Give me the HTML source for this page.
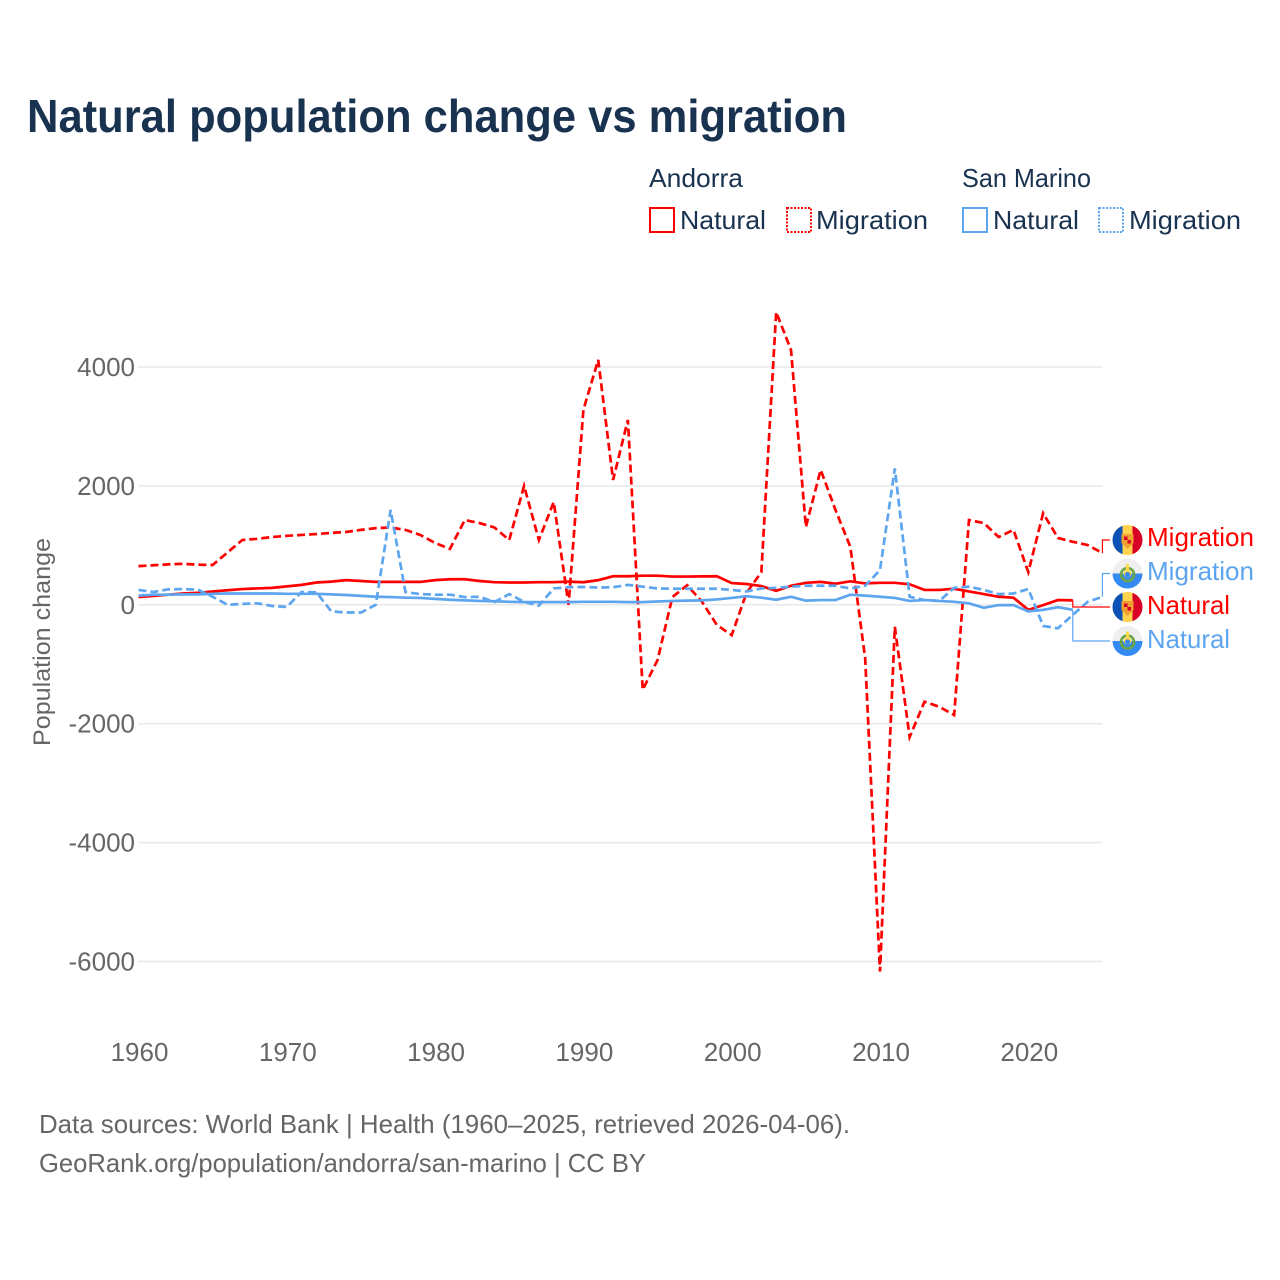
<!DOCTYPE html>
<html lang="en">
<head>
<meta charset="utf-8">
<title>Natural population change vs migration</title>
<style>
html,body{margin:0;padding:0;background:#fff;}
svg{display:block;font-family:"Liberation Sans",sans-serif;}
</style>
</head>
<body>
<svg id="chart" xmlns="http://www.w3.org/2000/svg" width="1280" height="1280" viewBox="0 0 1280 1280">
  <defs>
    <clipPath id="flag-clip"><circle cx="0" cy="0" r="15"/></clipPath>
    <g id="flag-ad" clip-path="url(#flag-clip)">
      <rect x="-15" y="-15" width="30" height="30" fill="#ffd34d"/>
      <rect x="-15" y="-15" width="10" height="30" fill="#0a52b5"/>
      <rect x="5" y="-15" width="10" height="30" fill="#d80027"/>
      <path d="M-6,-6 H6 V3 L0,9 L-6,3 Z" fill="#f0a030"/>
      <rect x="-3.5" y="-3.5" width="3.5" height="3.5" fill="#d80027"/>
      <rect x="0" y="0" width="3.5" height="3.5" fill="#d80027"/>
    </g>
    <g id="flag-sm" clip-path="url(#flag-clip)">
      <rect x="-15" y="-15" width="30" height="15" fill="#eeeeee"/>
      <rect x="-15" y="0" width="30" height="15" fill="#338af3"/>
      <circle cx="0" cy="1" r="6.5" fill="none" stroke="#6da544" stroke-width="2.6"/>
      <circle cx="0" cy="0" r="3.8" fill="#ffda44"/>
      <circle cx="0" cy="1" r="2.6" fill="#338af3"/>
      <rect x="-1.5" y="-9.5" width="3" height="6" fill="#ffda44"/>
    </g>
  </defs>

  <text x="27" y="132" font-size="46" font-weight="700" fill="#18324f" textLength="820" lengthAdjust="spacingAndGlyphs">Natural population change vs migration</text>

  <g font-size="26" fill="#18324f">
    <text x="649" y="187" textLength="94" lengthAdjust="spacingAndGlyphs">Andorra</text>
    <text x="962" y="187" textLength="129" lengthAdjust="spacingAndGlyphs">San Marino</text>

    <g>
      <rect x="650" y="208" width="24" height="24" fill="none" stroke="#ff0000" stroke-width="2"/>
      <text x="680" y="229" textLength="86" lengthAdjust="spacingAndGlyphs">Natural</text>
    </g>
    <g>
      <rect x="787" y="208" width="24" height="24" fill="none" stroke="#ff0000" stroke-width="2" stroke-dasharray="2,1.5"/>
      <text x="816" y="229" textLength="112" lengthAdjust="spacingAndGlyphs">Migration</text>
    </g>
    <g>
      <rect x="963" y="208" width="24" height="24" fill="none" stroke="#5da5ee" stroke-width="2"/>
      <text x="993" y="229" textLength="86" lengthAdjust="spacingAndGlyphs">Natural</text>
    </g>
    <g>
      <rect x="1099" y="208" width="24" height="24" fill="none" stroke="#5da5ee" stroke-width="2" stroke-dasharray="2,1.5"/>
      <text x="1129" y="229" textLength="112" lengthAdjust="spacingAndGlyphs">Migration</text>
    </g>
  </g>

  <g id="grid"></g>
  <g id="y-ticks" font-size="26" fill="#666666" text-anchor="end"></g>
  <g id="x-ticks" font-size="26" fill="#666666" text-anchor="middle"></g>
  <text transform="translate(50,642) rotate(-90)" text-anchor="middle" font-size="24" fill="#666666" textLength="208" lengthAdjust="spacingAndGlyphs">Population change</text>

  <g id="series"></g>
  <g id="leaders"></g>
  <g id="end-labels"></g>

  <g font-size="26" fill="#666666">
    <text x="39" y="1133" textLength="811" lengthAdjust="spacingAndGlyphs">Data sources: World Bank | Health (1960–2025, retrieved 2026-04-06).</text>
    <text x="39" y="1172" textLength="607" lengthAdjust="spacingAndGlyphs">GeoRank.org/population/andorra/san-marino | CC BY</text>
  </g>
</svg>

<script>
var startYear = 1960;
var yTicks = [4000, 2000, 0, -2000, -4000, -6000];
var xTicks = [1960, 1970, 1980, 1990, 2000, 2010, 2020];

var andorraMigration = [650,665,680,690,675,670,880,1090,1110,1140,1160,1175,1190,1210,1225,1260,1290,1300,1260,1175,1040,940,1425,1375,1300,1090,2000,1090,1730,0,3280,4120,2100,3110,-1430,-930,130,330,50,-340,-510,200,550,4925,4285,1310,2270,1595,975,-900,-6170,-370,-2225,-1630,-1715,-1855,1425,1375,1140,1260,550,1540,1125,1060,1005,870];
var andorraNatural = [130,150,170,190,200,225,245,265,275,285,310,335,375,390,415,400,385,385,385,385,415,430,430,400,380,375,375,380,380,390,380,415,480,480,490,490,475,475,478,480,365,350,315,235,320,370,385,355,395,360,370,370,345,250,250,270,225,180,135,120,-85,-5,80,75];
var sanMarinoMigration = [250,215,260,265,255,135,0,15,25,-20,-35,215,210,-110,-130,-130,0,1595,215,180,170,170,130,135,45,180,50,-15,275,295,300,290,295,335,305,275,270,270,270,270,250,225,275,285,305,320,320,320,275,320,585,2295,135,80,65,285,305,250,180,190,265,-355,-395,-170,50,135];
var sanMarinoNatural = [155,170,170,175,175,185,190,190,190,190,185,185,185,175,165,150,135,130,120,115,100,85,75,65,60,50,45,45,45,45,50,50,50,45,45,55,65,70,75,90,115,145,120,85,135,70,80,80,170,155,135,115,65,80,65,50,25,-50,-5,-5,-110,-85,-40,-85];

var seriesNames = ['andorra-migration', 'san-marino-migration', 'andorra-natural', 'san-marino-natural'];
var labelTexts = ['Migration', 'Migration', 'Natural', 'Natural'];
var labelOwners = ['ad', 'sm', 'ad', 'sm'];

var RED = '#ff0000';
var BLUE = '#5da5ee';
var NS = 'http://www.w3.org/2000/svg';

function xScale(year) { return 138.5 + (year - 1960) * 14.83; }
function yScale(value) { return 604.8 - value * 0.05945; }

function make(tag, attrs, parent) {
  var el = document.createElementNS(NS, tag);
  for (var k in attrs) { el.setAttribute(k, attrs[k]); }
  parent.appendChild(el);
  return el;
}

function pathFor(values) {
  var d = '';
  for (var i = 0; i < values.length; i++) {
    d += (i ? 'L' : 'M') + xScale(startYear + i).toFixed(2) + ',' + yScale(values[i]).toFixed(2);
  }
  return d;
}

yTicks.forEach(function (t) {
  var line = make('line', {x1: 138.5, x2: 1102.5, y1: yScale(t), y2: yScale(t), stroke: '#e8e8e8', 'stroke-width': 1.5}, document.getElementById('grid'));
  
  
  var label = make('text', {x: 135, y: yScale(t) + 9}, document.getElementById('y-ticks'));
  
  
  label.textContent = String(t);
});

xTicks.forEach(function (t) {
  var label = make('text', {x: xScale(t) + 1, y: 1061}, document.getElementById('x-ticks'));
  
  
  label.textContent = String(t);
});

var seriesValues = [andorraMigration, sanMarinoMigration, andorraNatural, sanMarinoNatural];
var seriesColors = [RED, BLUE, RED, BLUE];
var seriesDash = ['8,4', '8,4', '', ''];
var labelYs = [540, 573.5, 607, 641];
var labelBaselines = [546, 580, 614, 648];

var seriesGroup = document.getElementById('series');
var drawOrder = [0, 2, 1, 3];
drawOrder.forEach(function (i) {
  var attrs = {d: pathFor(seriesValues[i]), fill: 'none', stroke: seriesColors[i], 'stroke-width': 2.7, 'stroke-linejoin': 'miter'};
  if (seriesDash[i]) { attrs['stroke-dasharray'] = seriesDash[i]; }
  var line = make('path', attrs, seriesGroup);
  
  
});

var leaders = document.getElementById('leaders');
var endLabels = document.getElementById('end-labels');
seriesValues.forEach(function (vals, i) {
  var lastX = xScale(startYear + vals.length - 1);
  var lastY = yScale(vals[vals.length - 1]);
  var ly = labelYs[i];
  var leader = make('path', {d: 'M' + lastX + ',' + lastY + 'V' + ly + 'H1110', fill: 'none', stroke: seriesColors[i], 'stroke-width': 1.2}, leaders);
  
  

  var flag = make('use', {href: '#flag-' + labelOwners[i], transform: 'translate(1127.5,' + ly + ')'}, endLabels);
  
  

  var label = make('text', {x: 1147, y: labelBaselines[i], 'font-size': 26, fill: seriesColors[i], textLength: labelTexts[i] === 'Migration' ? 107 : 83, lengthAdjust: 'spacingAndGlyphs'}, endLabels);
  
  
  label.textContent = labelTexts[i];
});
</script>
</body>
</html>
